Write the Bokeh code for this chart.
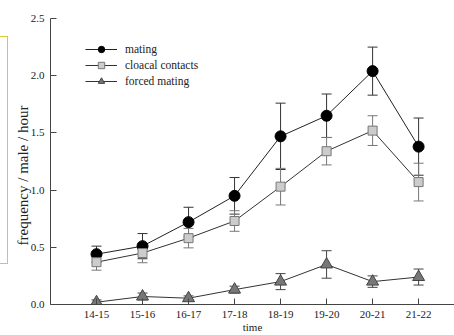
from bokeh.plotting import figure
from bokeh.layouts import row
from bokeh.models import (ColumnDataSource, Whisker, TeeHead, FixedTicker, Legend,
                          LegendItem, PrintfTickFormatter, Title, Div)
from bokeh.embed import file_html
from bokeh.resources import INLINE

categories = ["14-15", "15-16", "16-17", "17-18", "18-19", "19-20", "20-21", "21-22"]
mating = [0.44, 0.51, 0.72, 0.95, 1.47, 1.65, 2.04, 1.38]
mating_err = [0.07, 0.11, 0.13, 0.16, 0.29, 0.19, 0.21, 0.25]
cloacal = [0.37, 0.45, 0.58, 0.73, 1.03, 1.34, 1.52, 1.07]
cloacal_err = [0.07, 0.085, 0.085, 0.09, 0.16, 0.12, 0.13, 0.165]
forced = [0.02, 0.07, 0.055, 0.13, 0.20, 0.35, 0.20, 0.24]
forced_err = [0.02, 0.03, 0.02, 0.03, 0.07, 0.12, 0.05, 0.07]

FONT = "Liberation Serif"
xs = list(range(len(categories)))

p = figure(width=445, height=335, output_backend="svg", toolbar_location=None,
           x_range=(-1, 7.78), y_range=(0, 2.5),
           min_border_left=41, min_border_right=0, min_border_top=18, min_border_bottom=29)
p.outline_line_color = None
p.grid.visible = False
p.background_fill_color = "white"

def add_series(vals, errs, mcolor, fcolor, ecolor, marker, size, lcolor):
    src = ColumnDataSource(dict(x=xs, y=vals,
                                upper=[v + e for v, e in zip(vals, errs)],
                                lower=[v - e for v, e in zip(vals, errs)]))
    w = Whisker(source=src, base="x", upper="upper", lower="lower",
                line_color=ecolor, line_width=1, level="underlay",
                upper_head=TeeHead(size=10, line_color=ecolor, line_width=1),
                lower_head=TeeHead(size=10, line_color=ecolor, line_width=1))
    p.add_layout(w)
    ln = p.line("x", "y", source=src, line_color=lcolor, line_width=1)
    sc = p.scatter("x", "y", source=src, marker=marker, size=size,
                   fill_color=fcolor, line_color=mcolor, line_width=1)
    return ln, sc

m_l, m_s = add_series(mating, mating_err, "black", "black", "#333333", "circle", 11, "#222222")
c_l, c_s = add_series(cloacal, cloacal_err, "#777777", "#cccccc", "#777777", "square", 9, "#333333")
f_l, f_s = add_series(forced, forced_err, "#444444", "#777777", "#444444", "triangle", 12, "#333333")

legend = Legend(items=[LegendItem(label="mating", renderers=[m_l, m_s]),
                       LegendItem(label="cloacal contacts", renderers=[c_l, c_s]),
                       LegendItem(label="forced mating", renderers=[f_l, f_s])],
                location=(35, 215), glyph_width=32, glyph_height=16, label_height=16,
                spacing=0, padding=0, margin=0, label_standoff=8,
                border_line_color=None, background_fill_alpha=0,
                label_text_font=FONT, label_text_font_size="11.5px", label_text_color="#222222")
p.add_layout(legend)

for ax in (p.xaxis, p.yaxis):
    ax.major_tick_in = 6
    ax.major_tick_out = 0
    ax.minor_tick_in = 0
    ax.minor_tick_out = 0
    ax.axis_line_color = "#444444"
    ax.major_tick_line_color = "#444444"
    ax.major_label_text_font = FONT
    ax.major_label_text_font_size = "11px"
    ax.major_label_text_color = "#222222"
    ax.major_label_standoff = 6

p.xaxis.ticker = FixedTicker(ticks=xs)
p.xaxis.major_label_overrides = {i: c for i, c in enumerate(categories)}
p.xaxis.axis_label = "time"
p.xaxis.axis_label_text_font = FONT
p.xaxis.axis_label_text_font_size = "11px"
p.xaxis.axis_label_text_font_style = "normal"
p.xaxis.axis_label_standoff = 0
p.xaxis.axis_label_text_color = "#222222"

p.yaxis.ticker = FixedTicker(ticks=[0, 0.5, 1.0, 1.5, 2.0, 2.5])
p.yaxis.formatter = PrintfTickFormatter(format="%.1f")

ylab = Title(text="frequency / male / hour", align="left", offset=59, standoff=-7,
             text_font=FONT, text_font_size="15px", text_font_style="normal",
             text_color="#222222")
p.add_layout(ylab, "left")

side = Div(text='<div style="margin:36px 0 0 0; padding:0; width:8px; height:228px; '
                'border:1px solid #d8cc2a; border-left:none;"></div>',
           width=9, height=335, margin=0)

layout = row(side, p, spacing=0, margin=0)
open("out.html", "w").write(file_html(layout, INLINE))
